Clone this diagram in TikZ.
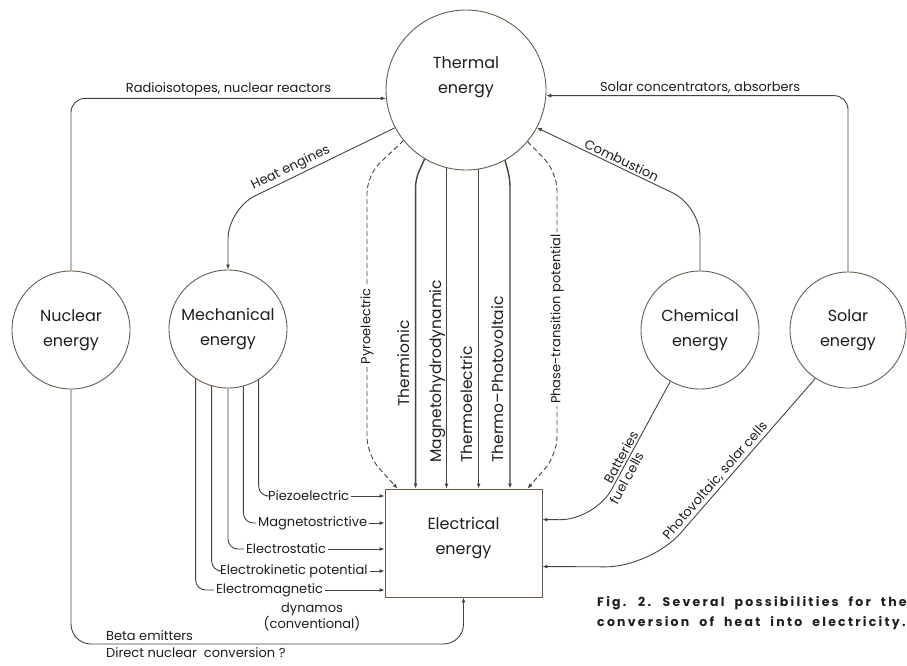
\documentclass[tikz,border=0pt]{standalone}
\usepackage{fontspec}
\setmainfont{Poppins}
\usetikzlibrary{arrows.meta,calc}
\definecolor{ink}{HTML}{47433A}
\definecolor{rim}{HTML}{6A5B4D}
\definecolor{txt}{HTML}{1E1E1E}
\newcommand{\bigtext}{\fontsize{16}{25}\selectfont}
\newcommand{\midtext}{\fontsize{15.5}{18}\selectfont}
\newcommand{\smalltext}{\fontsize{13}{15}\selectfont}
\newcommand{\captext}{\fontsize{12.5}{20}\selectfont\bfseries\addfontfeatures{LetterSpace=18}\spaceskip=10pt}

\begin{document}
\begin{tikzpicture}[
    x=1pt, y=-1pt,
    energy/.style={circle,draw=rim,line width=0.9pt,minimum size=118pt,inner sep=0pt,align=center,font=\bigtext,text=txt},
    lbl/.style={font=\smalltext,text=txt,inner sep=2pt},
    vlbl/.style={font=\midtext,text=txt,rotate=90,inner sep=0pt,anchor=base west},
    link/.style={draw=ink,line width=0.9pt},
    arrow/.style={link,-{Latex[length=5pt,width=4pt]}},
    dashlink/.style={arrow,dash pattern=on 5pt off 3pt}
  ]
  \useasboundingbox (0,0) rectangle (907,665);
  \fill[white] (0,0) rectangle (907,665);

  % energy forms
  \node[energy,minimum size=160pt,text depth=30pt] (thermal) at (466,90) {Thermal\\energy};
  \node[energy] (nuclear) at (71,330) {Nuclear\\energy};
  \node[energy] (mechanical) at (228,329) {Mechanical\\energy};
  \node[energy] (chemical) at (700,330) {Chemical\\energy};
  \node[energy,minimum size=116pt] (solar) at (848,330) {Solar\\energy};
  \node[draw=rim,line width=0.9pt,minimum width=157pt,minimum height=108pt,inner sep=0pt,
    align=center,font=\bigtext,text=txt,text depth=14pt] (elec) at (463.5,543) {Electrical\\energy};

  % into thermal energy
  \draw[arrow,rounded corners=14pt] (nuclear.north) |-
    node[lbl,above,pos=0.75] {Radioisotopes, nuclear reactors} (thermal.186);
  \draw[arrow,rounded corners=14pt] (solar.north) |-
    node[lbl,above,pos=0.745] {Solar concentrators, absorbers} (thermal.-4);
  \draw[arrow,rounded corners=30pt] (chemical.north) -- (700,206) --
    node[lbl,sloped,above,pos=0.5] {Combustion} (thermal.-28);
  \draw[arrow,rounded corners=30pt] (thermal.208) --
    node[lbl,sloped,above,pos=0.6] {Heat engines} (228,209) -- (mechanical.north);

  % thermal to electrical
  \draw[dashlink,rounded corners=18pt] (thermal.-141) -- (367,175) --
    node[lbl,fill=white,rotate=90,pos=0.54] {Pyroelectric} (367,455) -- ($(elec.north west)+(13,0)$);
  \draw[dashlink,rounded corners=18pt] (thermal.-40) -- (557,172) --
    node[lbl,fill=white,rotate=90,pos=0.52] {Phase-transition potential} (557,455) -- ($(elec.north east)+(-15,0)$);
  \draw[arrow,line width=1.4pt,rounded corners=8pt] (thermal.-121) -- ++(-9,20) coordinate (t1) -- (t1 |- elec.north);
  \draw[arrow,line width=1.4pt] (thermal.-104) -- (thermal.-104 |- elec.north);
  \draw[arrow,line width=1.4pt] (thermal.-81) -- (thermal.-81 |- elec.north);
  \draw[arrow,line width=1.4pt,rounded corners=8pt] (thermal.-61) -- ++(5,18) coordinate (t4) -- (t4 |- elec.north);
  \node[vlbl] (thermionic) at (409,407) {Thermionic};
  \node[vlbl] (mhd) at (441,463) {Magnetohydrodynamic};
  \node[vlbl] (thermoel) at (472,463) {Thermoelectric};
  \node[vlbl] (thermopv) at (503,463) {Thermo--Photovoltaic};

  % mechanical to electrical
  \node[lbl,anchor=west] (piezo) at (266,496) {Piezoelectric};
  \node[lbl,anchor=west] (magst) at (256,523) {Magnetostrictive};
  \node[lbl,anchor=west] (estat) at (244,549) {Electrostatic};
  \node[lbl,anchor=west] (ekin) at (218,571) {Electrokinetic potential};
  \node[lbl,anchor=west] (emag) at (214,590) {Electromagnetic};
  \node[lbl,align=center] (dyn) at (312,617) {dynamos\\(conventional)};
  \draw[link,rounded corners=10pt] (mechanical.-59) |- (piezo.west);
  \draw[link,rounded corners=10pt] (mechanical.-75) |- (magst.west);
  \draw[link,rounded corners=10pt] (mechanical.-90) |- (estat.west);
  \draw[link,rounded corners=10pt] (mechanical.-106) |- (ekin.west);
  \draw[link,rounded corners=10pt] (mechanical.-123) |- (emag.west);
  \draw[arrow] (piezo.east) -- (piezo.east -| elec.west);
  \draw[arrow] (magst.east) -- (magst.east -| elec.west);
  \draw[arrow] (estat.east) -- (estat.east -| elec.west);
  \draw[arrow] (ekin.east) -- (ekin.east -| elec.west);
  \draw[arrow] (emag.east) -- (emag.east -| elec.west);

  % chemical, solar, nuclear to electrical
  \draw[arrow,rounded corners=35pt] (chemical.-120) --
    node[lbl,sloped,above,pos=0.57] {Batteries}
    node[lbl,sloped,below,pos=0.67] {fuel cells} (595,520) -- ($(elec.north east)+(0,31)$);
  \draw[arrow,rounded corners=45pt] (solar.-124) --
    node[lbl,sloped,above,pos=0.57] {Photovoltaic, solar cells} (651,567) -- ($(elec.north east)+(0,78)$);
  \coordinate (base) at (0,644);
  \draw[arrow,rounded corners=20pt] (nuclear.south) |- (elec.south |- base) -- (elec.south);
  \node[lbl,anchor=south west] (beta) at (104,643) {Beta emitters};
  \node[lbl,anchor=north west] (direct) at (104,645) {Direct nuclear\ \ conversion ?};

  % caption
  \node[anchor=north west,align=left,font=\captext,text=txt,inner sep=0pt] (caption) at (597,596)
    {Fig. 2. Several possibilities for the\\conversion of heat into electricity.};
\end{tikzpicture}
\end{document}
